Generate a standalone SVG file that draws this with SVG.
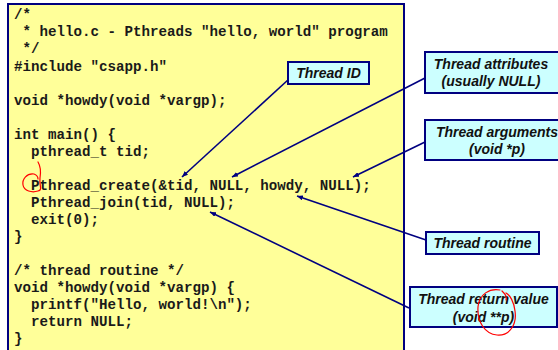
<svg xmlns="http://www.w3.org/2000/svg" width="558" height="350" viewBox="0 0 558 350">
<defs>
<style>
.code{font-family:"Liberation Mono","Courier New",monospace;font-weight:bold;font-size:14.17px;fill:#1a1a1a;white-space:pre}
.lbl{font-family:"Liberation Sans",Arial,sans-serif;font-weight:bold;font-style:italic;font-size:14px;fill:#111;text-anchor:middle}
.box{fill:#ccffff;stroke:#000080;stroke-width:2}
.conn{stroke:#000080;stroke-width:1.6;fill:none;marker-end:url(#ah)}
.red{stroke:#ff0000;stroke-width:1.2;fill:none;stroke-linecap:round}
</style>
<marker id="ah" viewBox="0 0 10 10" refX="10" refY="5" markerWidth="6" markerHeight="5" markerUnits="userSpaceOnUse" orient="auto" preserveAspectRatio="none">
<path d="M0,0 L10,5 L0,10 z" fill="#000080"/>
</marker>
</defs>
<rect width="558" height="350" fill="#ffffff"/>
<g id="code-panel">
<rect x="8" y="4" width="396" height="352" fill="#ffff99" stroke="#000080" stroke-width="2"/>
<text class="code" x="14" y="19">/*</text>
<text class="code" x="14" y="36"> * hello.c - Pthreads "hello, world" program</text>
<text class="code" x="14" y="53"> */</text>
<text class="code" x="14" y="71">#include "csapp.h"</text>
<text class="code" x="14" y="105">void *howdy(void *vargp);</text>
<text class="code" x="14" y="139">int main() {</text>
<text class="code" x="14" y="156">  pthread_t tid;</text>
<text class="code" x="14" y="190">  Pthread_create(&amp;tid, NULL, howdy, NULL);</text>
<text class="code" x="14" y="207">  Pthread_join(tid, NULL);</text>
<text class="code" x="14" y="224">  exit(0);</text>
<text class="code" x="14" y="241">}</text>
<text class="code" x="14" y="275">/* thread routine */</text>
<text class="code" x="14" y="292">void *howdy(void *vargp) {</text>
<text class="code" x="14" y="309">  printf("Hello, world!\n");</text>
<text class="code" x="14" y="326">  return NULL;</text>
<text class="code" x="14" y="343">}</text>
</g>
<g id="connectors">
<line class="conn" x1="289" y1="79" x2="182" y2="177"/>
<line class="conn" x1="425" y1="78" x2="232" y2="177"/>
<line class="conn" x1="425" y1="142" x2="353" y2="177"/>
<line class="conn" x1="426" y1="240" x2="297" y2="196"/>
<line class="conn" x1="409" y1="308" x2="210" y2="212"/>
</g>
<g id="thread-id">
<rect class="box" x="288" y="62" width="81" height="22"/>
<text class="lbl" x="328.5" y="78">Thread ID</text>
</g>
<g id="thread-attributes">
<rect class="box" x="425" y="52" width="138" height="41"/>
<text class="lbl" x="491" y="69">Thread attributes</text>
<text class="lbl" x="491" y="86">(usually NULL)</text>
</g>
<g id="thread-arguments">
<rect class="box" x="425" y="120" width="145" height="40"/>
<text class="lbl" x="497" y="137">Thread arguments</text>
<text class="lbl" x="497" y="154">(void *p)</text>
</g>
<g id="thread-routine">
<rect class="box" x="426" y="232" width="113" height="22"/>
<text class="lbl" x="482.5" y="248">Thread routine</text>
</g>
<g id="thread-return">
<rect class="box" x="410" y="287" width="147" height="40"/>
<text class="lbl" x="483.5" y="304">Thread return value</text>
<text class="lbl" x="483.5" y="322">(void **p)</text>
</g>
<g id="annotations">
<path class="red" d="M38,162 C41,167 41,172 40,178 C39,186 43,190 38,191 C32,193 24,191 23,185 C22,179 27,173 34,174 C37,175 38,177 38,179"/>
<path class="red" d="M502,291 C505,294 507,296 506,300 M500,290 C490,288 479,294 478,307 C477,322 485,334 497,335 C510,336 517,324 515,311 C514,302 510,295 506,293"/>
</g>
</svg>
